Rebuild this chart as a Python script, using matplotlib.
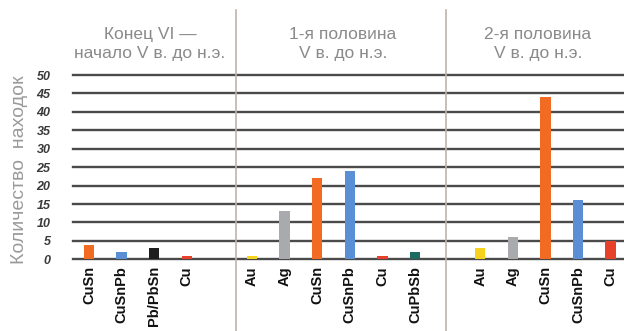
import matplotlib
matplotlib.use("Agg")
import matplotlib.pyplot as plt
import matplotlib.transforms as mtransforms

# data
periods = ["Конец VI —\nначало V в. до н.э.",
           "1-я половина\nV в. до н.э.",
           "2-я половина\nV в. до н.э."]
metals_1 = ["CuSn", "CuSnPb", "Pb/PbSn", "Cu"]
counts_1 = [4, 2, 3, 1]
metals_2 = ["Au", "Ag", "CuSn", "CuSnPb", "Cu", "CuPbSb"]
counts_2 = [1, 13, 22, 24, 1, 2]
metals_3 = ["Au", "Ag", "CuSn", "CuSnPb", "Cu"]
counts_3 = [3, 6, 44, 16, 5]

metal_colors = {
    "CuSn": "#f26b22",
    "CuSnPb": "#5b8fd5",
    "Pb/PbSn": "#1e1e1e",
    "Cu": "#e8412a",
    "Au": "#f6d21c",
    "Ag": "#a8aaae",
    "CuPbSb": "#1d6b60",
}

groups = [(metals_1, counts_1), (metals_2, counts_2), (metals_3, counts_3)]

plt.rcParams["font.family"] = ["Liberation Sans", "DejaVu Sans"]

fig = plt.figure(figsize=(6.24, 3.31), dpi=100)
ax = fig.add_axes([72.7 / 624, 1 - 259.3 / 331, 1 - 72.7 / 624, 184.3 / 331])

x_pos, labels, heights, colors = [], [], [], []
starts = []
pos = 0
for metals, counts in groups:
    starts.append(pos)
    for m, c in zip(metals, counts):
        x_pos.append(pos)
        labels.append(m)
        heights.append(c)
        colors.append(metal_colors[m])
        pos += 1
    pos += 1

ax.bar(x_pos, heights, width=0.32, color=colors, zorder=3)

ax.set_ylim(0, 50)
ax.set_xlim(-0.5, 16.41)
ax.set_yticks(range(0, 51, 5))
ax.yaxis.grid(True, color="#4a4a4a", linewidth=1.7, zorder=1)
for ln in ax.get_ygridlines():
    ln.set_clip_on(False)
ax.set_axisbelow(True)
for s in ax.spines.values():
    s.set_visible(False)
ax.tick_params(axis="y", length=0, pad=16, labelsize=9, labelcolor="#3a3a3a")
for t in ax.get_yticklabels():
    t.set_fontstyle("italic")
    t.set_fontweight("bold")

ax.set_xticks(x_pos)
ax.set_xticklabels(labels, rotation=90, fontsize=10.5, fontweight="bold",
                   color="#111111")
ax.tick_params(axis="x", length=0, pad=5)

# separators between periods
for sx in [starts[1] - 0.5, starts[2] - 1.05]:
    ax.axvline(sx, ymin=-0.39, ymax=1.353, color="#bdb5ad", linewidth=1.2,
               clip_on=False, zorder=2)

trans = mtransforms.blended_transform_factory(ax.transData, fig.transFigure)
title_x = [1.87, 7.79, 13.77]
for tx, txt in zip(title_x, periods):
    ax.text(tx, 1 - 44 / 331, txt, transform=trans, ha="center", va="center",
            fontsize=12.5, color="#8a8a8a", linespacing=1.3)

fig.text(20 / 624, 1 - 170 / 331, "Количество  находок", rotation=90,
         ha="center", va="center", fontsize=14, color="#9a9a9a")

fig.savefig("out.png", dpi=100)
